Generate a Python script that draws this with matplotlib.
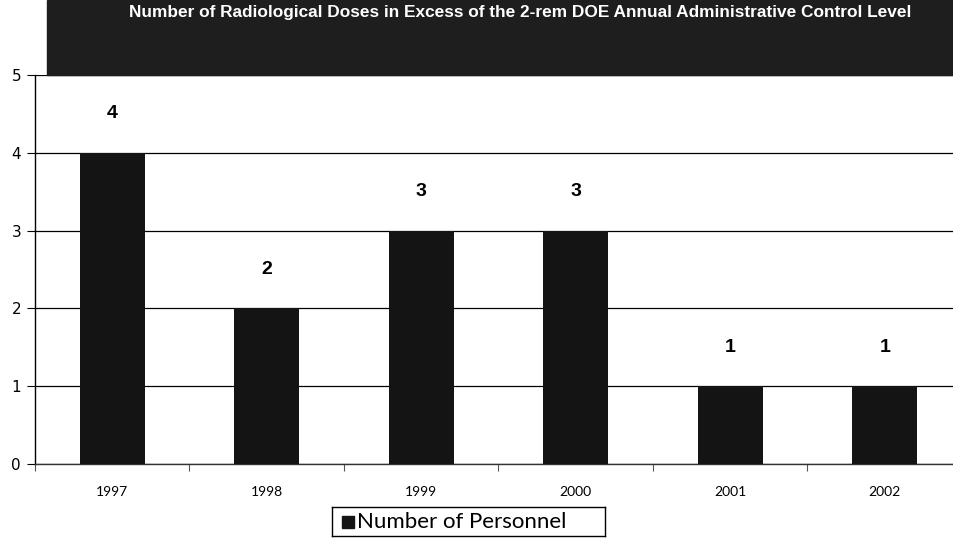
import matplotlib
matplotlib.use("Agg")
import matplotlib.pyplot as plt
from matplotlib.patches import Rectangle

years = ["1997", "1998", "1999", "2000", "2001", "2002"]
personnel = [4, 2, 3, 3, 1, 1]
title_text = ("Number of Radiological Doses in Excess of the "
              "2-rem DOE Annual Administrative Control Level")
legend_label = "Number of Personnel"

W, H = 954, 538
fig = plt.figure(figsize=(W / 100, H / 100), dpi=100)

# axes: left edge x=35, y=0 at 464 px, y=5 at 75 px, 154.5 px per category
left, bottom, top = 35, 464, 75
ax = fig.add_axes([left / W, 1 - bottom / H, 927 / W, (bottom - top) / H])

x = list(range(len(years)))
ax.bar(x, personnel, width=0.42, color="#141414", zorder=3)

for xi, v in zip(x, personnel):
    ax.text(xi, v + 0.5, str(v), ha="center", va="center",
            fontsize=14, fontweight="bold", color="black",
            family="Liberation Sans")

ax.set_xlim(-0.5, 5.5)
ax.set_ylim(0, 5)
ax.set_yticks([0, 1, 2, 3, 4, 5])
ax.tick_params(axis="y", direction="out", length=6, labelsize=11, pad=4)
ax.yaxis.grid(True, color="black", linewidth=0.9, zorder=1)

# category ticks between bars
ax.set_xticks([i + 0.5 for i in range(-1, len(years))], minor=False)
ax.set_xticklabels([])
ax.tick_params(axis="x", direction="out", length=5, color="#555555")
for xi, lab in zip(x, years):
    ax.text(xi, -0.36, lab, ha="center", va="center", fontsize=10,
            family="Lato", color="black")

for s in ["top", "right"]:
    ax.spines[s].set_visible(False)
ax.spines["left"].set_linewidth(1.0)
ax.spines["bottom"].set_linewidth(1.0)
ax.spines["bottom"].set_color("#333333")

# dark title banner
fig.patches.append(Rectangle((47 / W, 1 - 75 / H), 1 - 47 / W, 75 / H,
                             transform=fig.transFigure, color="#1e1e1e",
                             zorder=0))
fig.text(520 / W, 1 - 13 / H, title_text, ha="center", va="center",
         fontsize=12.4, fontweight="bold", color="white",
         family="Liberation Sans")

# legend box
leg_ax = fig.add_axes([332 / W, 1 - 536 / H, 273 / W, 29 / H])
leg_ax.set_xticks([])
leg_ax.set_yticks([])
leg_ax.set_xlim(0, 273)
leg_ax.set_ylim(0, 29)
for s in leg_ax.spines.values():
    s.set_linewidth(1.0)
leg_ax.add_patch(Rectangle((10, 8), 12, 12, color="#141414"))
leg_ax.text(25, 14.5, legend_label, ha="left", va="center", fontsize=16,
            family="Lato", color="black")

fig.savefig("out.png", dpi=100)
